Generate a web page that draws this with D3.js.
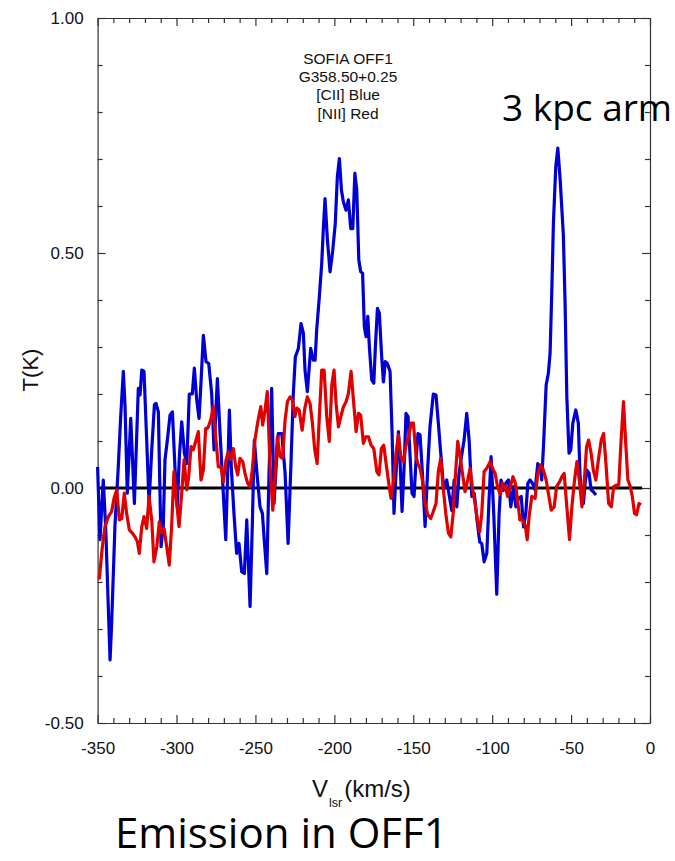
<!DOCTYPE html>
<html><head><meta charset="utf-8">
<script src="https://cdn.jsdelivr.net/npm/d3@7"></script>
<style>body{margin:0;background:#fff}</style>
</head><body>
<svg id="c" width="675" height="861"></svg>
<script>
// [CII] spectrum (blue): [Vlsr km/s, T K]
const ciiBlue = [[-350,0.045],[-348.5,-0.11],[-346.4,0.017],[-344.9,-0.082],[-342.1,-0.366],[-341.1,-0.288],[-339,-0.08],[-336.9,0.045],[-335.4,0.15],[-333.7,0.248],[-332.6,0.173],[-331.2,-0.011],[-329,0.148],[-326.7,-0.033],[-324.2,0.212],[-323.1,0.198],[-322,0.251],[-320.6,0.248],[-318.9,0.102],[-317.4,-0.033],[-315.7,0.081],[-314,0.177],[-313,0.18],[-311.5,0.162],[-309.8,-0.125],[-308.4,-0.082],[-307.3,0.06],[-305.8,0.102],[-304.1,0.155],[-302.6,0.162],[-301,0.045],[-299.5,-0.04],[-298.2,0.067],[-296.7,0.141],[-295,0.074],[-293.5,0.052],[-291.9,0.2],[-290,0.2],[-288.7,0.255],[-287.2,0.187],[-285.7,0.148],[-284.3,0.237],[-283,0.325],[-281.3,0.269],[-279.6,0.265],[-277.7,0.2],[-276.2,0.081],[-274.1,0.233],[-272.4,0.116],[-270.7,0.01],[-268.8,-0.11],[-267.6,0.031],[-266.5,0.166],[-265.3,0.045],[-263.6,-0.054],[-261.9,-0.139],[-260.4,-0.118],[-258.7,-0.178],[-257,-0.182],[-255.5,-0.068],[-253.4,-0.252],[-252,-0.082],[-250.7,0.102],[-249.2,0.038],[-247.1,-0.04],[-245.6,-0.054],[-244.4,-0.111],[-242.8,-0.182],[-241.4,0.031],[-239.7,0.212],[-238.2,-0.033],[-236.9,0.045],[-235.5,0.116],[-233.3,0.116],[-231.2,0.031],[-229.3,-0.118],[-227.4,0.06],[-226,0.2],[-224.7,0.279],[-222.8,0.297],[-221.1,0.35],[-219.6,0.329],[-218.6,0.251],[-217.1,0.205],[-215,0.297],[-213.3,0.272],[-212.2,0.272],[-211.2,0.336],[-209.5,0.407],[-208,0.478],[-206.9,0.556],[-205.9,0.616],[-204.4,0.528],[-202.7,0.46],[-201,0.506],[-199.4,0.563],[-198.1,0.662],[-196.8,0.701],[-195.5,0.634],[-194.3,0.609],[-192.6,0.591],[-191.1,0.613],[-189.6,0.552],[-188.3,0.552],[-187,0.67],[-185.8,0.634],[-184.5,0.485],[-183.3,0.46],[-182.1,0.457],[-181,0.343],[-179.9,0.322],[-178.8,0.365],[-177.8,0.3],[-176.3,0.23],[-175,0.223],[-174,0.3],[-172.7,0.382],[-171.5,0.372],[-170,0.279],[-168.9,0.226],[-167.7,0.269],[-166.4,0.265],[-164.7,0.248],[-163.4,0.116],[-162.2,-0.054],[-160.7,0.045],[-159.4,0.12],[-158.4,0.06],[-157.1,-0.05],[-155.8,0.045],[-154.6,0.159],[-153.3,0.152],[-152,0.067],[-150.8,-0.011],[-149.5,-0.018],[-148.2,0.06],[-147,0.116],[-145.7,0.113],[-144.2,0.031],[-142.5,-0.082],[-140.8,0.045],[-139.4,0.13],[-137.3,0.2],[-135.6,0.198],[-134.1,0.138],[-132.4,0.067],[-130.7,-0.004],[-128.8,0.017],[-127.1,-0.018],[-125.6,-0.048],[-124.1,0.017],[-122.4,-0.04],[-121,0.031],[-119.3,0.07],[-117.8,0.102],[-116.1,0.159],[-114.6,0.102],[-112.9,-0.018],[-111.3,-0.012],[-109.6,-0.068],[-107.9,-0.115],[-106.6,-0.118],[-105.1,-0.157],[-103.4,-0.139],[-102,-0.026],[-100.7,0.067],[-99,-0.055],[-97.1,-0.226],[-95.6,-0.055],[-94.4,0.017],[-92.9,-0.005],[-91.4,0.01],[-89.7,0.017],[-88.2,-0.04],[-86.5,0.003],[-85,-0.04],[-83.3,-0.022],[-81.6,-0.018],[-80.1,-0.083],[-78.7,-0.054],[-77.4,0.01],[-76,0.017],[-74.5,0.01],[-72.8,-0.004],[-71.1,0.052],[-69.6,0.045],[-68.6,0.017],[-67.5,0.088],[-65.8,0.219],[-64.4,0.244],[-63.3,0.287],[-62.2,0.421],[-61.2,0.563],[-59.7,0.684],[-58.4,0.723],[-56.9,0.655],[-54.9,0.538],[-53.8,0.393],[-52.7,0.194],[-51.3,0.074],[-50.2,0.081],[-48.9,0.138],[-47,0.166],[-45.4,0.138],[-44.3,0.024],[-43.2,-0.011],[-42.2,-0.033],[-41.1,0.01],[-40,0.038],[-38.6,0.031],[-37.3,-0.004],[-35.9,-0.008],[-34.2,-0.015]];

// [NII] spectrum (red): [Vlsr km/s, T K]
const niiRed = [[-350,-0.192],[-348.9,-0.192],[-347,-0.125],[-345.3,-0.082],[-343.2,-0.061],[-341.1,-0.05],[-339.6,-0.022],[-337.9,-0.004],[-336.2,-0.068],[-334.7,-0.065],[-333.1,-0.011],[-331.6,-0.054],[-329.9,-0.089],[-328,-0.096],[-326.3,-0.104],[-324.8,-0.114],[-323.6,-0.139],[-322,-0.082],[-320.6,-0.061],[-318.9,-0.086],[-317.4,-0.018],[-315.7,-0.068],[-314.3,-0.157],[-312.5,-0.125],[-310.9,-0.072],[-309.4,-0.096],[-307.9,-0.086],[-306.2,-0.125],[-304.6,-0.164],[-303.1,-0.082],[-301.6,0.035],[-300.3,-0.018],[-298.4,-0.082],[-296.7,-0.011],[-295.2,0.06],[-293.5,-0.004],[-292.3,0.024],[-290.8,0.088],[-289.4,0.081],[-287.6,0.102],[-286.2,0.12],[-284.5,0.017],[-283,0.038],[-281.5,0.127],[-280.2,0.127],[-278.3,0.145],[-276.7,0.173],[-275.2,0.109],[-273.5,0.045],[-271.8,0.045],[-270.3,0.013],[-268.6,0.06],[-267.2,0.077],[-265.7,0.06],[-264,0.084],[-262.5,0.045],[-261.2,0.028],[-259.8,0.063],[-258,0.056],[-256.6,0.031],[-254.9,0.01],[-253.4,0.003],[-252,0.038],[-250.3,0.102],[-248.5,0.141],[-246.6,0.173],[-245.4,0.134],[-243.9,0.166],[-242.5,0.205],[-240.7,0.045],[-239,-0.047],[-237.6,0.024],[-236.1,0.109],[-234.4,0.067],[-232.8,0.063],[-231.2,0.145],[-229.7,0.184],[-228,0.194],[-226.5,0.187],[-225,0.152],[-223.8,0.17],[-222.3,0.166],[-220.4,0.123],[-218.7,0.17],[-217.1,0.194],[-215.4,0.18],[-213.9,0.138],[-212.4,0.081],[-210.9,0.052],[-209.5,0.152],[-208,0.251],[-206.5,0.251],[-204.8,0.152],[-203.2,0.099],[-201.6,0.219],[-200.2,0.251],[-198.9,0.18],[-197.4,0.13],[-195.9,0.152],[-194.2,0.173],[-192.5,0.184],[-191.1,0.201],[-189.4,0.248],[-187.9,0.187],[-186.2,0.12],[-184.7,0.159],[-183.3,0.155],[-181.6,0.095],[-180.1,0.109],[-178.4,0.109],[-176.7,0.091],[-175,0.084],[-173.1,0.035],[-171.7,0.028],[-170.2,0.084],[-168.7,0.091],[-167.2,0.052],[-165.5,0.01],[-164.1,-0.022],[-162.4,0.017],[-160.9,0.074],[-159.4,0.113],[-157.9,0.067],[-156.2,0.056],[-154.6,0.091],[-152.9,0.109],[-151.4,0.138],[-149.9,0.138],[-148.2,0.067],[-147.1,0.052],[-145.7,0.042],[-144.2,0.017],[-142.5,-0.033],[-140.8,-0.057],[-138.9,-0.065],[-137.3,-0.05],[-135.6,-0.033],[-134.1,0.035],[-132.6,0.063],[-131.1,0.003],[-129.4,-0.054],[-127.7,-0.096],[-126.2,-0.104],[-124.7,-0.054],[-123.2,0.031],[-121.8,0.099],[-120.3,0.067],[-118.8,0.031],[-117.2,-0.008],[-115.5,0.017],[-114,0.042],[-112.5,0],[-110.8,-0.033],[-109.4,-0.068],[-107.9,-0.093],[-106.6,-0.054],[-105.1,0.035],[-103.4,0.042],[-101.3,0.056],[-99.8,0.042],[-98.1,0.031],[-96.6,0.003],[-94.9,-0.014],[-93.4,0.01],[-91.7,0.003],[-90.2,-0.018],[-88.5,0.003],[-86.8,0.024],[-85.3,0.01],[-83.9,-0.026],[-82.4,-0.068],[-80.7,-0.068],[-79,-0.08],[-77.8,-0.11],[-76.6,-0.061],[-74.9,-0.018],[-72.8,-0.022],[-71.1,0.031],[-69.2,0.049],[-67.5,0.038],[-65.8,0.017],[-64.4,-0.011],[-62.6,-0.047],[-60.7,-0.04],[-59.2,0.003],[-57.3,0.013],[-55.8,0.024],[-54.4,0.031],[-52.7,-0.04],[-51,-0.11],[-49.5,-0.04],[-47.8,0.017],[-46.3,0.056],[-44.8,0.017],[-43.1,-0.04],[-41.7,0.01],[-40.2,0.088],[-38.9,0.102],[-37.3,0.074],[-35.9,0.038],[-34.3,0.017],[-32.7,0.06],[-30.9,0.102],[-29.4,0.116],[-27.9,0.052],[-26.2,-0.033],[-24.5,-0.04],[-23,0.003],[-21.3,0.006],[-19.8,0.006],[-18.3,0.102],[-16.8,0.184],[-15.5,0.102],[-14,0.017],[-12.5,0.003],[-11.2,-0.018],[-9.8,-0.054],[-8.5,-0.057],[-7,-0.033],[-5.7,-0.036]];

const xDomain = [-350, 0];
const yDomain = [-0.5, 1.0];
const xMajorTicks = [-350,-300,-250,-200,-150,-100,-50,0];
const xMinorTicks = d3.range(-340, 0, 10).filter(v => v % 50 !== 0);
const yMajorTicks = [-0.5, 0, 0.5, 1.0];
const yMinorTicks = [-0.4,-0.3,-0.2,-0.1,0.1,0.2,0.3,0.4,0.6,0.7,0.8,0.9];
const zeroLineRange = [-350, -5];
const titleLines = ["SOFIA OFF1", "G358.50+0.25", "[CII] Blue", "[NII] Red"];
const annotation = "3 kpc arm";
const caption = "Emission in OFF1";

const W = 675, H = 861;
const m = {left: 97.6, right: 25, top: 18, bottom: 138};
const svg = d3.select("#c");
const x = d3.scaleLinear().domain(xDomain).range([m.left, W - m.right]);
const y = d3.scaleLinear().domain(yDomain).range([H - m.bottom, m.top]);
const FONT = "'Liberation Sans', Arial, Helvetica, sans-serif";
const axisColor = "#333";

function styleAxis(g) {
  g.selectAll(".domain").attr("stroke", axisColor).attr("stroke-width", 1.2);
  g.selectAll(".tick line").attr("stroke", axisColor).attr("stroke-width", 1.2);
  g.selectAll("text").attr("font-family", FONT).attr("font-size", 17).attr("fill", "#111");
}

// bottom
svg.append("g").attr("transform", `translate(0,${y(-0.5)})`)
  .call(d3.axisBottom(x).tickValues(xMajorTicks).tickSize(-8).tickSizeOuter(0).tickPadding(19).tickFormat(d => String(d)))
  .call(styleAxis);
svg.append("g").attr("transform", `translate(0,${y(-0.5)})`)
  .call(d3.axisBottom(x).tickValues(xMinorTicks).tickSize(-5).tickFormat(""))
  .call(styleAxis).call(g => g.select(".domain").remove());
// top
svg.append("g").attr("transform", `translate(0,${y(1.0)})`)
  .call(d3.axisTop(x).tickValues(xMajorTicks).tickSize(-8).tickSizeOuter(0).tickFormat(""))
  .call(styleAxis);
svg.append("g").attr("transform", `translate(0,${y(1.0)})`)
  .call(d3.axisTop(x).tickValues(xMinorTicks).tickSize(-5).tickFormat(""))
  .call(styleAxis).call(g => g.select(".domain").remove());
// left
svg.append("g").attr("transform", `translate(${x(-350)},0)`)
  .call(d3.axisLeft(y).tickValues(yMajorTicks).tickSize(-8).tickSizeOuter(0).tickPadding(14).tickFormat(d => d.toFixed(2)))
  .call(styleAxis);
svg.append("g").attr("transform", `translate(${x(-350)},0)`)
  .call(d3.axisLeft(y).tickValues(yMinorTicks).tickSize(-5).tickFormat(""))
  .call(styleAxis).call(g => g.select(".domain").remove());
// right
svg.append("g").attr("transform", `translate(${x(0)},0)`)
  .call(d3.axisRight(y).tickValues(yMajorTicks).tickSize(-8).tickSizeOuter(0).tickFormat(""))
  .call(styleAxis);
svg.append("g").attr("transform", `translate(${x(0)},0)`)
  .call(d3.axisRight(y).tickValues(yMinorTicks).tickSize(-5).tickFormat(""))
  .call(styleAxis).call(g => g.select(".domain").remove());

// zero line
svg.append("line")
  .attr("x1", x(zeroLineRange[0])).attr("x2", x(zeroLineRange[1]))
  .attr("y1", y(0)).attr("y2", y(0))
  .attr("stroke", "#000").attr("stroke-width", 3);

const line = d3.line().x(d => x(d[0])).y(d => y(d[1]));
svg.append("path").datum(ciiBlue).attr("d", line)
  .attr("fill", "none").attr("stroke", "#0000d4").attr("stroke-width", 3.2).attr("stroke-linejoin", "round");
svg.append("path").datum(niiRed).attr("d", line)
  .attr("fill", "none").attr("stroke", "#e00000").attr("stroke-width", 3.2).attr("stroke-linejoin", "round");

// title block
const tb = svg.append("text").attr("font-family", FONT).attr("font-size", 15.5)
  .attr("text-anchor", "middle").attr("fill", "#111");
titleLines.forEach((t, i) => {
  tb.append("tspan").attr("x", 348).attr("y", 64 + i * 18.2).text(t);
});

// 3 kpc arm
svg.append("text").attr("x", 502).attr("y", 121)
  .attr("font-family", "'Open Sans', 'Noto Sans', sans-serif").attr("font-size", 37)
  .attr("fill", "#000").text(annotation);

// axis titles
svg.append("text").attr("transform", `translate(38,370) rotate(-90)`)
  .attr("text-anchor", "middle").attr("font-family", FONT).attr("font-size", 22)
  .attr("fill", "#111").text("T(K)");

// V_lsr (km/s) built from three separate pieces
const vMain = svg.append("text").attr("x", 312).attr("y", 797)
  .attr("font-family", FONT).attr("font-size", 24).attr("fill", "#111").text("V");
const vW = vMain.node().getComputedTextLength();
const vSub = svg.append("text").attr("x", 312 + vW + 1).attr("y", 807)
  .attr("font-family", FONT).attr("font-size", 12.5).attr("fill", "#111").text("lsr");
const sW = vSub.node().getComputedTextLength();
svg.append("text").attr("x", 312 + vW + 1 + sW + 2).attr("y", 797)
  .attr("font-family", FONT).attr("font-size", 24).attr("fill", "#111").text("(km/s)");

// caption
svg.append("text").attr("x", 115).attr("y", 848)
  .attr("font-family", "'Open Sans', 'Noto Sans', sans-serif").attr("font-size", 42)
  .attr("fill", "#000").text(caption);
</script>
</body></html>
